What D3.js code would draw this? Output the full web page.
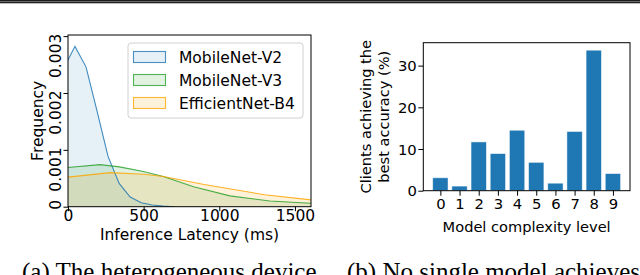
<!DOCTYPE html>
<html><head><meta charset="utf-8">
<script src="https://cdn.jsdelivr.net/npm/d3@7"></script>
<style>
html,body{margin:0;padding:0;background:#fff;}
svg{display:block;}
text{font-family:"DejaVu Sans",sans-serif;fill:#000;}
text.cap{font-family:"Liberation Serif","Times New Roman",serif;}
</style></head>
<body>
<svg id="c" width="640" height="275"></svg>
<script>
// ---- data: panel (a) kernel density of inference latency ----
const seriesNames = ["MobileNet-V2", "MobileNet-V3", "EfficientNet-B4"];
const v2Latency = [0, 46, 119, 192, 265, 338, 411, 484, 557, 630, 703];
const v2Freq    = [0.00258, 0.00282, 0.00246, 0.00168, 0.00088, 0.00041, 0.00017, 0.00007, 0.00003, 0.00001, 0.0];
const v3Latency = [0, 211, 340, 498, 630, 830, 1070, 1335, 1606];
const v3Freq    = [0.00069, 0.00074, 0.00070, 0.00062, 0.00053, 0.00035, 0.00019, 0.00010, 0.00006];
const b4Latency = [0, 280, 500, 630, 900, 1300, 1606];
const b4Freq    = [0.00052, 0.00060, 0.00057, 0.00053, 0.00039, 0.00021, 0.00012];
const latencyTicks = [0, 500, 1000, 1500];
const freqTicks = [0, 0.001, 0.002, 0.003];

// ---- data: panel (b) ----
const levels = [0, 1, 2, 3, 4, 5, 6, 7, 8, 9];
const clientsPct = [3.1, 1.1, 11.7, 8.9, 14.5, 6.8, 1.8, 14.2, 33.7, 4.1];
const pctTicks = [0, 10, 20, 30];

const captions = ["(a) The heterogeneous device", "(b) No single model achieves"];

const svg = d3.select("#c");

// top rule (page edge)
svg.append("rect").attr("x", 0).attr("y", 0).attr("width", 640).attr("height", 3.3).attr("fill", "#1c1c1c");
svg.append("rect").attr("x", 0).attr("y", 1.2).attr("width", 640).attr("height", 0.9).attr("fill", "#7a7a7a");

// ================= Panel (a) =================
const A = {l: 68, r: 311, t: 35, b: 206.7};
const xA = d3.scaleLinear().domain([0, 1606]).range([A.l, A.r]);
const yA = d3.scaleLinear().domain([0, 0.00302]).range([A.b, A.t]);

const colors = ["#1f77b4", "#2ca02c", "#ffa500"];
const fillOp = [0.11, 0.14, 0.14];
const series = [
  v2Latency.map((x, i) => [x, v2Freq[i]]),
  v3Latency.map((x, i) => [x, v3Freq[i]]),
  b4Latency.map((x, i) => [x, b4Freq[i]])
];

svg.append("clipPath").attr("id", "clipA").append("rect")
  .attr("x", A.l).attr("y", A.t).attr("width", A.r - A.l).attr("height", A.b - A.t);

const gA = svg.append("g").attr("clip-path", "url(#clipA)");
const area = d3.area().x(d => xA(d[0])).y0(yA(0)).y1(d => yA(d[1]));
const line = d3.line().x(d => xA(d[0])).y(d => yA(d[1]));
series.forEach((s, i) => {
  gA.append("path").attr("d", area(s)).attr("fill", colors[i]).attr("fill-opacity", fillOp[i]);
});
series.forEach((s, i) => {
  gA.append("path").attr("d", line(s)).attr("fill", "none").attr("stroke", colors[i])
    .attr("stroke-width", 1.1).attr("stroke-opacity", 0.85);
});

// axes (a)
const axA_x = svg.append("g").attr("transform", `translate(0,${A.b})`)
  .call(d3.axisBottom(xA).tickValues(latencyTicks).tickSize(4.5).tickPadding(2).tickFormat(d3.format("d")));
axA_x.select(".domain").remove();
axA_x.selectAll("text").attr("font-size", "15.5px").attr("dy", "0.71em").attr("y", 3);

const axA_y = svg.append("g").attr("transform", `translate(${A.l},0)`)
  .call(d3.axisLeft(yA).tickValues(freqTicks).tickSize(4.5).tickFormat(d => d === 0 ? "0" : d3.format(".3f")(d)));
axA_y.select(".domain").remove();
axA_y.selectAll("text")
  .attr("font-size", "15.5px")
  .attr("transform", "rotate(-90)")
  .attr("x", d => d === 0 ? 2.5 : 3)
  .attr("y", -12.5)
  .attr("dy", "0.35em")
  .attr("text-anchor", d => d === 0 ? "middle" : "end");

svg.append("rect").attr("x", A.l).attr("y", A.t).attr("width", A.r - A.l).attr("height", A.b - A.t)
  .attr("fill", "none").attr("stroke", "#000").attr("stroke-width", 1);

svg.append("text").attr("x", (A.l + A.r) / 2).attr("y", 240).attr("text-anchor", "middle")
  .attr("font-size", "15.5px").text("Inference Latency (ms)");
svg.append("text").attr("transform", `translate(38,${(A.t + A.b) / 2}) rotate(-90)`)
  .attr("text-anchor", "middle").attr("dy", "0.35em").attr("font-size", "15.5px").text("Frequency");

// legend
const lg = svg.append("g");
lg.append("rect").attr("x", 128).attr("y", 43).attr("width", 175).attr("height", 75).attr("rx", 3)
  .attr("fill", "#fff").attr("fill-opacity", 0.8).attr("stroke", "#d0d0d0").attr("stroke-width", 1);
seriesNames.forEach((n, i) => {
  const cy = 57 + i * 23;
  lg.append("rect").attr("x", 133.5).attr("y", cy - 5.5).attr("width", 32).attr("height", 11)
    .attr("fill", colors[i]).attr("fill-opacity", fillOp[i]).attr("stroke", colors[i]).attr("stroke-opacity", 0.8).attr("stroke-width", 1.1);
  lg.append("text").attr("x", 179).attr("y", cy).attr("dy", "0.36em").attr("font-size", "15.5px").text(n);
});

// ================= Panel (b) =================
const B = {l: 423.3, r: 630, t: 42.7, b: 190.7};
const xB = d3.scaleLinear().domain([-0.89, 9.89]).range([B.l, B.r]);
const yB = d3.scaleLinear().domain([0, 35.5]).range([B.b, B.t]);

svg.append("g").selectAll("rect").data(levels).join("rect")
  .attr("x", d => xB(d - 0.4)).attr("width", d => xB(d + 0.4) - xB(d - 0.4))
  .attr("y", (d, i) => yB(clientsPct[i])).attr("height", (d, i) => yB(0) - yB(clientsPct[i]))
  .attr("fill", "#1f77b4").attr("stroke", "#ffffff").attr("stroke-opacity", 0.6).attr("stroke-width", 0.8);

const axB_x = svg.append("g").attr("transform", `translate(0,${B.b})`)
  .call(d3.axisBottom(xB).tickValues(levels).tickSize(5).tickFormat(d3.format("d")));
axB_x.select(".domain").remove();
axB_x.selectAll("text").attr("font-size", "14.8px").attr("y", 7.5).attr("dy", "0.71em");

const axB_y = svg.append("g").attr("transform", `translate(${B.l},0)`)
  .call(d3.axisLeft(yB).tickValues(pctTicks).tickSize(5).tickFormat(d3.format("d")));
axB_y.select(".domain").remove();
axB_y.selectAll("text").attr("font-size", "14.8px").attr("x", -6.5).attr("dy", "0.35em");

svg.append("rect").attr("x", B.l).attr("y", B.t).attr("width", B.r - B.l).attr("height", B.b - B.t)
  .attr("fill", "none").attr("stroke", "#000").attr("stroke-width", 1);

svg.append("text").attr("x", (B.l + B.r) / 2).attr("y", 232).attr("text-anchor", "middle")
  .attr("font-size", "14.6px").text("Model complexity level");
const yl = svg.append("text").attr("transform", `translate(366,${(B.t + B.b) / 2}) rotate(-90)`)
  .attr("text-anchor", "middle").attr("font-size", "14.6px");
yl.append("tspan").attr("x", 0).attr("dy", "0.35em").text("Clients achieving the");
yl.append("tspan").attr("x", 0).attr("dy", "1.2em").text("best accuracy (%)");

// captions (cut off by the bottom edge, as in the source)
svg.append("text").attr("class", "cap").attr("x", 22).attr("y", 280)
  .attr("font-size", "25px").text(captions[0]);
svg.append("text").attr("class", "cap").attr("x", 347).attr("y", 280)
  .attr("font-size", "25px").text(captions[1]);
</script>
</body></html>
